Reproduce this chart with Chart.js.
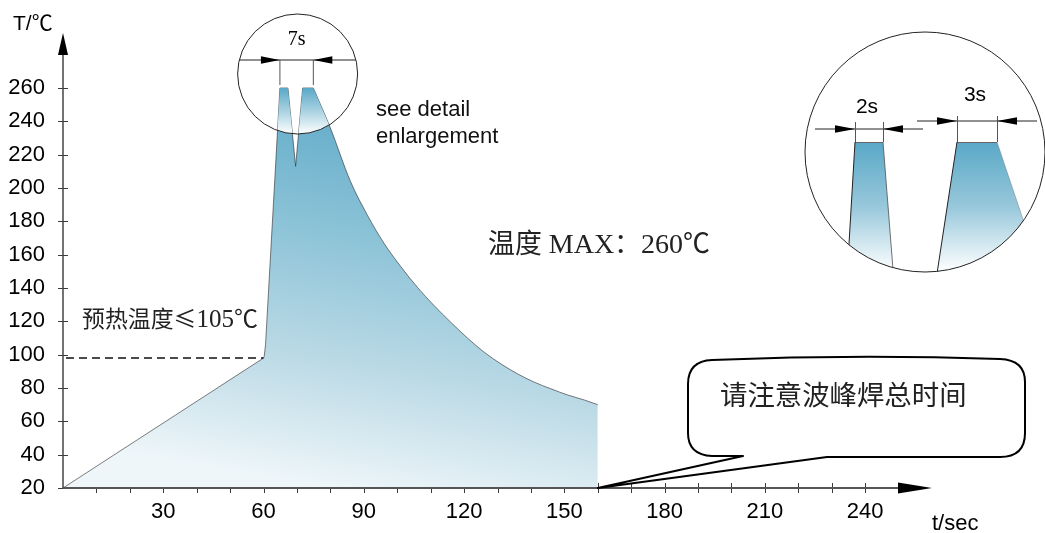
<!DOCTYPE html>
<html><head><meta charset="utf-8">
<script src="https://cdn.jsdelivr.net/npm/chart.js@4.4.1/dist/chart.umd.min.js"></script>
<style>html,body{margin:0;padding:0;background:#fff}canvas{display:block}</style>
</head><body>
<canvas id="c" width="1045" height="533"></canvas>
<script>
// ---- data ----
const profileTime = [0, 60, 60.2, 60.6, 64.9, 67.3, 69.6, 71.7, 74.9, 80, 86, 91, 96, 101, 106, 111, 116, 121, 126, 131, 136, 141, 146, 151, 156, 160];
const profileTemp = [20, 98, 99, 106, 260, 260, 213, 260, 260, 236, 204, 184, 167, 153, 140.5, 129.5, 119.5, 110, 101.5, 94.5, 88.5, 83.5, 79.5, 75.8, 72.8, 70];
const xMinorTicks = [10,20,30,40,50,60,70,80,90,100,110,120,130,140,150,160,170,180,190,200,210,220,230,240];
const xLabelTicks = [30,60,90,120,150,180,210,240];
const yTicks = [20,40,60,80,100,120,140,160,180,200,220,240,260];
const preheatLimit = 98;
const peakTemp = 260;
const peakEndTime = 74.9;   // start of the cooling curve

const SANS = '"Liberation Sans", Arial, "Noto Sans CJK SC", sans-serif';
const SERIF = '"Liberation Serif", "Times New Roman", serif';
const CJK = '"Noto Sans CJK SC", sans-serif';

const peakEndIdx = profileTime.indexOf(peakEndTime);
const pointsAll = profileTime.map((t, i) => ({x: t, y: profileTemp[i]}));
const heatPts = pointsAll.slice(0, peakEndIdx + 2);   // straight heating part (+1 overlap point, hidden under the cooling fill)
const heatLinePts = pointsAll.slice(0, peakEndIdx + 1);
const coolPts = pointsAll.slice(peakEndIdx);          // smooth cooling curve

function arrowHead(c, tipX, y, dir, len, hw){
  c.beginPath();
  c.moveTo(tipX, y);
  c.lineTo(tipX - dir*len, y - hw);
  c.lineTo(tipX - dir*len, y + hw);
  c.closePath(); c.fill();
}
function runsWidth(c, runs){
  let w = 0; runs.forEach(r => { c.font = r[1] + 'px ' + r[2]; w += c.measureText(r[0]).width; }); return w;
}
function drawRuns(c, runs, x, y, targetW){
  const w = runsWidth(c, runs);
  const k = targetW ? Math.max(0.85, Math.min(1.15, targetW / w)) : 1;
  runs.forEach(r => {
    c.font = (r[1]*k).toFixed(1) + 'px ' + r[2];
    c.fillText(r[0], x, y);
    x += c.measureText(r[0]).width;
  });
}
function gradFill(ch){
  const ys = ch.scales.y;
  const g = ch.ctx.createLinearGradient(400, ys.getPixelForValue(260), 330, ys.getPixelForValue(20));
  g.addColorStop(0, '#5aa7c6');
  g.addColorStop(0.35, '#88c1d6');
  g.addColorStop(0.7, '#bcdae6');
  g.addColorStop(1, '#eef6f9');
  return g;
}

const deco = {
  id: 'deco',
  beforeDatasetsDraw(chart){
    const c = chart.ctx, xs = chart.scales.x, ys = chart.scales.y;
    const y0 = ys.getPixelForValue(20), x0 = xs.getPixelForValue(0);
    c.save();
    c.strokeStyle = '#3a3a3a'; c.lineWidth = 1;
    xMinorTicks.forEach(v => {
      const x = Math.round(xs.getPixelForValue(v)) + 0.5;
      c.beginPath(); c.moveTo(x, y0 - 5); c.lineTo(x, y0 + 5); c.stroke();
    });
    yTicks.forEach(v => {
      const y = Math.round(ys.getPixelForValue(v)) + 0.5;
      c.beginPath(); c.moveTo(x0 - 5, y); c.lineTo(x0 + 5, y); c.stroke();
    });
    c.restore();
  },
  afterDatasetsDraw(chart){
    const c = chart.ctx, xs = chart.scales.x, ys = chart.scales.y;
    const y0 = ys.getPixelForValue(20), x0 = xs.getPixelForValue(0);
    const heatEl = chart.getDatasetMeta(1).data.slice(0, peakEndIdx + 1);
    const coolEl = chart.getDatasetMeta(0).data;
    const yPeak = ys.getPixelForValue(peakTemp);
    const pL = xs.getPixelForValue(profileTime[4]);
    const pR = xs.getPixelForValue(profileTime[peakEndIdx]);
    const LC = {x: (pL + pR)/2 + 1, y: yPeak - 14, r: 60};

    // lighter fill inside the left magnifier circle
    c.save();
    c.beginPath(); c.arc(LC.x, LC.y, LC.r, 0, Math.PI*2); c.clip();
    c.beginPath();
    c.moveTo(heatEl[0].x, y0);
    heatEl.forEach(p => c.lineTo(p.x, p.y));
    coolEl.forEach(p => c.lineTo(p.x, p.y));
    c.lineTo(coolEl[coolEl.length-1].x, y0);
    c.closePath();
    const g = c.createLinearGradient(0, yPeak, 0, LC.y + LC.r);
    g.addColorStop(0, '#5aa8c7'); g.addColorStop(0.5, '#a9d2e1'); g.addColorStop(1, '#ffffff');
    c.fillStyle = g; c.fill();
    c.restore();

    c.save();
    // dashed preheat line
    const yd = ys.getPixelForValue(preheatLimit);
    c.strokeStyle = '#111'; c.lineWidth = 1.5; c.setLineDash([8,5]);
    c.beginPath(); c.moveTo(x0 + 3, yd); c.lineTo(xs.getPixelForValue(60), yd); c.stroke();
    c.setLineDash([]);

    // axes
    const xEnd = xs.getPixelForValue(260), yTop = ys.getPixelForValue(293);
    c.strokeStyle = '#555'; c.lineWidth = 2;
    c.beginPath(); c.moveTo(x0, y0); c.lineTo(xEnd - 20, y0); c.stroke();
    c.lineWidth = 1.5; c.strokeStyle = '#444';
    c.beginPath(); c.moveTo(x0, y0); c.lineTo(x0, yTop + 15); c.stroke();
    c.fillStyle = '#000';
    arrowHead(c, xEnd, y0, 1, 34, 5.5);
    c.beginPath(); c.moveTo(x0, yTop); c.lineTo(x0 - 5, yTop + 22); c.lineTo(x0 + 5, yTop + 22); c.closePath(); c.fill();

    // axis titles
    c.fillStyle = '#000'; c.textBaseline = 'alphabetic'; c.textAlign = 'left';
    c.font = '21px ' + SANS; c.fillText('T/℃', 13, 30);
    c.font = '22px ' + SANS; c.fillText('t/sec', 932, 530);

    // left magnifier circle
    c.strokeStyle = '#222'; c.lineWidth = 1;
    c.beginPath(); c.arc(LC.x, LC.y, LC.r, 0, Math.PI*2); c.stroke();
    const dy = 60;
    c.beginPath(); c.moveTo(LC.x - LC.r + 2, dy); c.lineTo(LC.x + LC.r - 2, dy); c.stroke();
    c.strokeStyle = '#555';
    c.beginPath(); c.moveTo(pL, dy); c.lineTo(pL, yPeak - 3); c.moveTo(pR, dy); c.lineTo(pR, yPeak - 3); c.stroke();
    c.fillStyle = '#000';
    arrowHead(c, pL, dy, 1, 19, 3.8);
    arrowHead(c, pR, dy, -1, 19, 3.8);
    c.font = '20px ' + SERIF; c.textAlign = 'center';
    c.fillText('7s', (pL + pR)/2, 45);

    // texts
    c.textAlign = 'left'; c.fillStyle = '#111';
    c.font = '22px ' + SANS;
    c.fillText('see detail', 376, 116);
    c.fillText('enlargement', 376, 143);
    c.fillStyle = '#222';
    drawRuns(c, [['温度', 25, CJK], [' MAX', 26, SERIF], ['：', 25, CJK], ['260', 26, SERIF], ['℃', 25, CJK]], 488, 253, 222);
    drawRuns(c, [['预热温度≤', 22, CJK], ['105', 24, SERIF], ['℃', 23, CJK]], 82, 327, 176);

    // right detail circle
    const RC = {x: 925, y: 152, r: 120};
    c.save();
    c.beginPath(); c.arc(RC.x, RC.y, RC.r, 0, Math.PI*2); c.clip();
    const g2 = c.createLinearGradient(0, 142, 0, 272);
    g2.addColorStop(0, '#5aa8c7'); g2.addColorStop(0.5, '#98c8db'); g2.addColorStop(1, '#ffffff');
    c.fillStyle = g2;
    c.beginPath(); c.moveTo(855,142); c.lineTo(883,142); c.lineTo(895,295); c.lineTo(846,295); c.closePath(); c.fill();
    c.beginPath(); c.moveTo(957,142); c.lineTo(997,142); c.lineTo(1050,300); c.lineTo(933,300); c.closePath(); c.fill();
    c.lineWidth = 1;
    c.strokeStyle = '#666';
    c.beginPath(); c.moveTo(855,142.5); c.lineTo(883,142.5); c.moveTo(957,142.5); c.lineTo(997,142.5); c.stroke();
    c.strokeStyle = 'rgba(80,80,80,0.8)';
    c.beginPath(); c.moveTo(883,142); c.lineTo(895,295); c.stroke();
    c.strokeStyle = '#222';
    c.beginPath(); c.moveTo(855,142); c.lineTo(846,295); c.moveTo(957,142); c.lineTo(933,300); c.stroke();
    c.strokeStyle = 'rgba(120,140,150,0.6)';
    c.beginPath(); c.moveTo(997,142); c.lineTo(1050,300); c.stroke();
    c.restore();
    c.strokeStyle = '#222'; c.lineWidth = 1;
    c.beginPath(); c.arc(RC.x, RC.y, RC.r, 0, Math.PI*2); c.stroke();
    c.beginPath(); c.moveTo(815, 129); c.lineTo(923, 129); c.stroke();
    c.beginPath(); c.moveTo(917, 121); c.lineTo(1037, 121); c.stroke();
    c.strokeStyle = '#555';
    c.beginPath();
    c.moveTo(855.5, 122); c.lineTo(855.5, 142); c.moveTo(883.5, 122); c.lineTo(883.5, 142);
    c.moveTo(957.5, 116); c.lineTo(957.5, 142); c.moveTo(997.5, 116); c.lineTo(997.5, 142);
    c.stroke();
    c.fillStyle = '#000';
    arrowHead(c, 855, 129, 1, 20, 3.8); arrowHead(c, 883, 129, -1, 20, 3.8);
    arrowHead(c, 957, 121, 1, 20, 3.8); arrowHead(c, 997, 121, -1, 20, 3.8);
    c.font = '21px ' + SANS; c.textAlign = 'center';
    c.fillText('2s', 867, 113);
    c.fillText('3s', 975, 101);

    // callout bubble
    const tipX = xs.getPixelForValue(profileTime[profileTime.length-1]);
    c.beginPath();
    c.moveTo(743, 456);
    c.lineTo(tipX, y0);
    c.lineTo(827, 457);
    c.lineTo(1000, 457);
    c.quadraticCurveTo(1025, 457, 1025, 433);
    c.lineTo(1025, 382);
    c.quadraticCurveTo(1025, 360, 1000, 359);
    c.quadraticCurveTo(856, 354, 712, 360);
    c.quadraticCurveTo(688, 361, 688, 384);
    c.lineTo(688, 433);
    c.quadraticCurveTo(688, 455, 712, 456);
    c.closePath();
    c.fillStyle = '#fff'; c.fill();
    c.strokeStyle = '#000'; c.lineWidth = 2; c.lineJoin = 'round'; c.stroke();
    c.fillStyle = '#222'; c.textAlign = 'left';
    drawRuns(c, [['请注意波峰焊总时间', 27, CJK]], 720, 405, 247);
    c.restore();
  }
};

const fillColor = (ctx) => ctx.chart.chartArea ? gradFill(ctx.chart) : '#9ccadb';

new Chart(document.getElementById('c').getContext('2d'), {
  type: 'line',
  data: {
    datasets: [{
      // cooling curve (smooth), drawn above the heating fill
      data: coolPts,
      order: 1,
      fill: 'start',
      cubicInterpolationMode: 'monotone',
      pointRadius: 0,
      borderWidth: 0.8,
      borderColor: 'rgba(40,40,40,0.75)',
      backgroundColor: fillColor
    }, {
      // heating part fill (straight segments)
      data: heatPts,
      order: 2,
      fill: 'start',
      tension: 0,
      pointRadius: 0,
      borderWidth: 0,
      borderColor: 'rgba(0,0,0,0)',
      backgroundColor: fillColor
    }, {
      // heating part outline
      data: heatLinePts,
      order: 0,
      fill: false,
      tension: 0,
      pointRadius: 0,
      borderWidth: 0.8,
      borderColor: 'rgba(40,40,40,0.75)'
    }]
  },
  options: {
    responsive: false,
    animation: false,
    events: [],
    layout: {padding: {left: 0, right: 113, top: 33, bottom: 0}},
    plugins: {legend: {display: false}, tooltip: {enabled: false}},
    scales: {
      x: {
        type: 'linear', min: 0, max: 260,
        afterFit: s => { s.height = 45; },
        afterBuildTicks: s => { s.ticks = xMinorTicks.map(v => ({value: v})); },
        grid: {display: false, drawTicks: false},
        border: {display: false},
        ticks: {
          autoSkip: false, maxRotation: 0, minRotation: 0, padding: 11, color: '#000',
          font: {family: 'Liberation Sans', size: 22},
          callback: v => xLabelTicks.includes(Number(v)) ? String(v) : ''
        }
      },
      y: {
        type: 'linear', min: 20, max: 293,
        afterFit: s => { s.width = 63; },
        afterBuildTicks: s => { s.ticks = yTicks.map(v => ({value: v})); },
        grid: {display: false, drawTicks: false},
        border: {display: false},
        ticks: {
          autoSkip: false, padding: 18, color: '#000',
          font: {family: 'Liberation Sans', size: 22},
          callback: v => String(v)
        }
      }
    }
  },
  plugins: [deco]
});
</script>
</body></html>
